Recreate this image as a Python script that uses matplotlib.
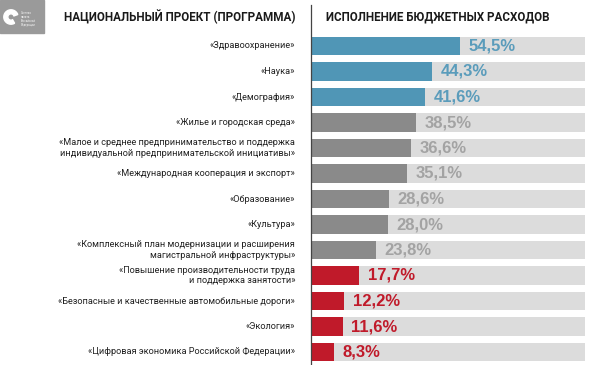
import matplotlib
matplotlib.use("Agg")
import matplotlib.pyplot as plt
from matplotlib.patches import Rectangle, Wedge
from matplotlib.lines import Line2D

categories = [
    "«Здравоохранение»",
    "«Наука»",
    "«Демография»",
    "«Жилье и городская среда»",
    "«Малое и среднее предпринимательство и поддержка\nиндивидуальной предпринимательской инициативы»",
    "«Международная кооперация и экспорт»",
    "«Образование»",
    "«Культура»",
    "«Комплексный план модернизации и расширения\nмагистральной инфраструктуры»",
    "«Повышение производительности труда\nи поддержка занятости»",
    "«Безопасные и качественные автомобильные дороги»",
    "«Экология»",
    "«Цифровая экономика Российской Федерации»",
]
values = [54.5, 44.3, 41.6, 38.5, 36.6, 35.1, 28.6, 28.0, 23.8, 17.7, 12.2, 11.6, 8.3]
value_labels = ["54,5%", "44,3%", "41,6%", "38,5%", "36,6%", "35,1%", "28,6%",
                "28,0%", "23,8%", "17,7%", "12,2%", "11,6%", "8,3%"]
groups = ["blue"] * 3 + ["grey"] * 6 + ["red"] * 4
full_scale = 100

bar_colors = {"blue": "#5096b6", "grey": "#8a8a8a", "red": "#c01a2a"}
text_colors = {"blue": "#5a9cbb", "grey": "#a3a3a3", "red": "#c01a2a"}

W, H = 600, 365
fig = plt.figure(figsize=(W / 100, H / 100), dpi=100)
fig.patch.set_facecolor("white")

row_h = 25.5
top_c = 46
ax_top = top_c - row_h / 2
ax_bot = ax_top + row_h * len(values)
ax = fig.add_axes([311 / W, 1 - ax_bot / H, 274 / W, (ax_bot - ax_top) / H])
ax.set_xlim(0, full_scale)
ax.set_ylim(len(values) - 0.5, -0.5)
ax.axis("off")

ys = list(range(len(values)))
ax.barh(ys, [full_scale] * len(values), height=0.72, color="#dcdcdc", zorder=1)
ax.barh(ys, values, height=0.72, color=[bar_colors[g] for g in groups], zorder=2)

for y, v, lab, g in zip(ys, values, value_labels, groups):
    ax.annotate(lab, (v, y), xytext=(6, 0), textcoords="offset points",
                ha="left", va="center", fontsize=12, fontweight="bold",
                family="Liberation Sans", color=text_colors[g], zorder=3)

for y, c in zip(ys, categories):
    ax.annotate(c, (0, y), xytext=(-11.5, 0), textcoords="offset points",
                ha="right", va="center", fontsize=6.6, family="Roboto",
                color="#222222", linespacing=1.15, annotation_clip=False)

# vertical divider
fig.add_artist(Line2D([311 / W, 311 / W], [0, 1 - 5 / H], color="#444444", lw=0.9))

# headers
fig.text(295 / W, 1 - 17 / H, "НАЦИОНАЛЬНЫЙ ПРОЕКТ (ПРОГРАММА)", ha="right", va="center",
         fontsize=8.4, fontweight="bold", family="Roboto", color="#1a1a1a")
fig.text(326 / W, 1 - 17 / H, "ИСПОЛНЕНИЕ БЮДЖЕТНЫХ РАСХОДОВ", ha="left", va="center",
         fontsize=8.4, fontweight="bold", family="Roboto", color="#1a1a1a")

# logo
fig.add_artist(Rectangle((0, 1 - 33 / H), 44 / W, 33 / H, transform=fig.transFigure,
                         color="#9a9a9a", zorder=0))
lax = fig.add_axes([2 / W, 1 - 31 / H, 18 / W, 28 / H])
lax.set_xlim(-1, 1); lax.set_ylim(-1, 1); lax.set_aspect("equal"); lax.axis("off")
lax.add_patch(Wedge((0, 0), 0.8, 20, 300, width=0.45, color="white"))
for i, t in enumerate(["Счетная", "палата", "Российской", "Федерации"]):
    fig.text(21 / W, 1 - (13 + i * 4) / H, t, fontsize=1.8, color="white",
             family="DejaVu Sans", va="center")

fig.savefig("out.png", dpi=100)
